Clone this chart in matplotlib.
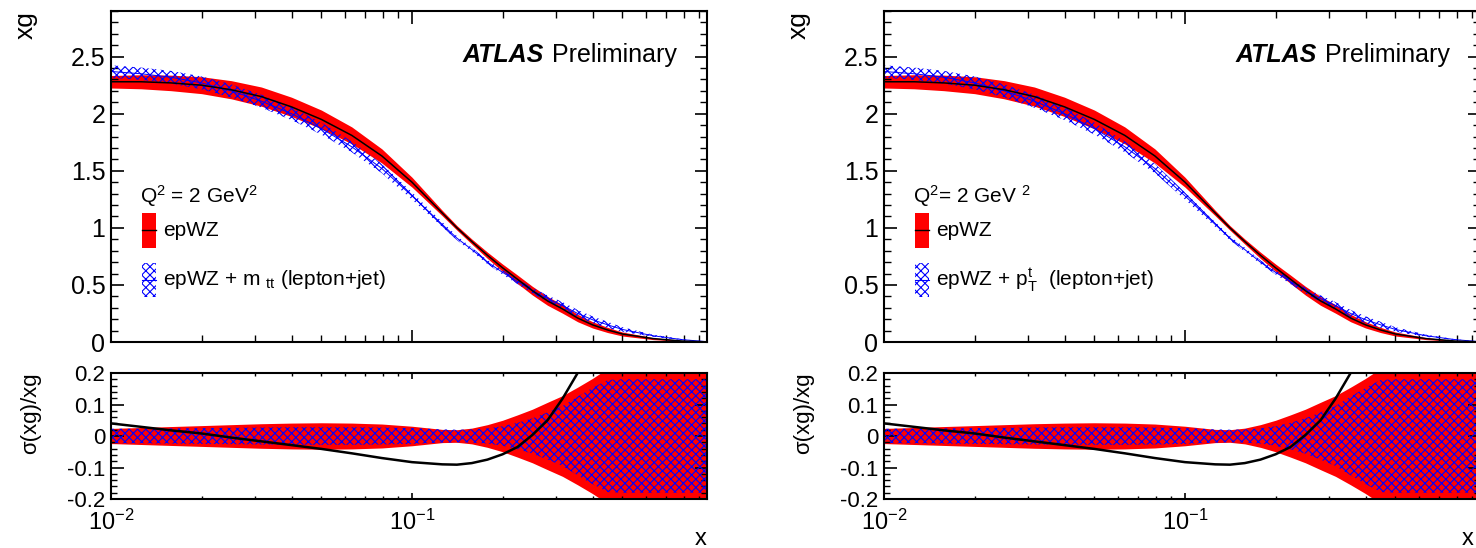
import numpy as np
import matplotlib
matplotlib.use("Agg")
import matplotlib.pyplot as plt
from matplotlib.patches import Rectangle
from matplotlib.lines import Line2D
from matplotlib.ticker import LogLocator, MultipleLocator, FuncFormatter, NullFormatter

plt.rcParams['font.family'] = ['Liberation Sans', 'DejaVu Sans']
plt.rcParams['mathtext.fontset'] = 'custom'
plt.rcParams['mathtext.rm'] = 'Liberation Sans'
plt.rcParams['mathtext.it'] = 'Liberation Sans:italic'
plt.rcParams['mathtext.bf'] = 'Liberation Sans:bold'
plt.rcParams['hatch.linewidth'] = 0.8

# ---- gluon density xg at Q^2 = 2 GeV^2 ----
x_grid = [0.01, 0.0126, 0.0158, 0.02, 0.0251, 0.0316, 0.0398, 0.05, 0.0631, 0.0794,
          0.1, 0.126, 0.141, 0.158, 0.178, 0.2, 0.224, 0.251, 0.282, 0.316,
          0.355, 0.398, 0.447, 0.5, 0.631, 0.794, 0.955]

# epWZ fit: central value and relative uncertainty
xg_epwz = [2.28, 2.28, 2.27, 2.25, 2.21, 2.15, 2.06, 1.95, 1.81, 1.63,
           1.40, 1.13, 1.00, 0.88, 0.76, 0.65, 0.55, 0.45, 0.36, 0.29,
           0.21, 0.15, 0.105, 0.07, 0.03, 0.008, 0.001]
rel_unc_epwz = [0.024, 0.027, 0.030, 0.033, 0.036, 0.039, 0.041, 0.042, 0.041, 0.038,
                0.031, 0.021, 0.020, 0.025, 0.036, 0.050, 0.067, 0.085, 0.107, 0.128,
                0.155, 0.183, 0.215, 0.25, 0.30, 0.35, 0.40]

# epWZ + m_tt (lepton+jet)
xg_mtt = [2.37, 2.35, 2.32, 2.27, 2.20, 2.11, 2.00, 1.87, 1.71, 1.52,
          1.28, 1.03, 0.91, 0.81, 0.70, 0.61, 0.53, 0.45, 0.38, 0.32,
          0.25, 0.195, 0.15, 0.11, 0.055, 0.02, 0.003]
rel_unc_mtt = [0.023, 0.023, 0.024, 0.025, 0.026, 0.027, 0.028, 0.028, 0.028, 0.027,
               0.025, 0.021, 0.020, 0.021, 0.024, 0.031, 0.042, 0.056, 0.075, 0.095,
               0.125, 0.153, 0.178, 0.18, 0.18, 0.18, 0.18]
ratio_mtt = [0.040, 0.029, 0.018, 0.008, -0.005, -0.017, -0.029, -0.041, -0.055, -0.070,
             -0.083, -0.090, -0.091, -0.086, -0.075, -0.058, -0.035, 0.003, 0.050, 0.118,
             0.20, 0.30, 0.42, 0.55, 0.90, 1.5, 2.0]

# epWZ + top pT (lepton+jet)
xg_pt = [2.37, 2.35, 2.32, 2.27, 2.20, 2.11, 2.00, 1.87, 1.71, 1.52,
         1.28, 1.03, 0.91, 0.81, 0.70, 0.61, 0.53, 0.45, 0.38, 0.32,
         0.25, 0.195, 0.15, 0.11, 0.055, 0.02, 0.003]
rel_unc_pt = [0.023, 0.023, 0.024, 0.025, 0.026, 0.027, 0.028, 0.028, 0.028, 0.027,
              0.025, 0.021, 0.020, 0.021, 0.024, 0.031, 0.042, 0.056, 0.075, 0.095,
              0.125, 0.153, 0.178, 0.18, 0.18, 0.18, 0.18]
ratio_pt = [0.040, 0.029, 0.018, 0.008, -0.005, -0.017, -0.029, -0.041, -0.055, -0.070,
            -0.083, -0.090, -0.091, -0.086, -0.075, -0.058, -0.035, 0.003, 0.050, 0.118,
            0.20, 0.30, 0.42, 0.55, 0.90, 1.5, 2.0]

q2_labels = [r"Q$^{2}$ = 2 GeV$^{2}$", r"Q$^{2}$= 2 GeV $^{2}$"]
legend_ref = "epWZ"
legend_alt = [r"epWZ + m $_{\rm tt}$ (lepton+jet)", r"epWZ + p$_{\rm T}^{\rm t}$  (lepton+jet)"]

W, H = 1476, 548
fig = plt.figure(figsize=(W / 100, H / 100), dpi=100)


def fx(px):
    return px / W


def fy(py):
    return 1 - py / H


def style_axes(ax, top):
    ax.set_xscale('log')
    ax.set_xlim(0.01, 0.955)
    ax.xaxis.set_major_locator(LogLocator(base=10))
    ax.xaxis.set_minor_locator(LogLocator(base=10, subs=np.arange(2, 10)))
    ax.xaxis.set_minor_formatter(NullFormatter())
    for s in ax.spines.values():
        s.set_linewidth(1.5)
    if top:
        ax.set_ylim(0, 2.9)
        ax.yaxis.set_major_locator(MultipleLocator(0.5))
        ax.yaxis.set_minor_locator(MultipleLocator(0.1))
        ax.xaxis.set_major_formatter(NullFormatter())
        ax.tick_params(axis='both', which='major', length=9, width=1.2)
        ax.tick_params(axis='both', which='minor', length=5, width=1.0)
        ax.tick_params(axis='y', labelsize=18, pad=4)
    else:
        ax.set_ylim(-0.2, 0.2)
        ax.yaxis.set_major_locator(MultipleLocator(0.1))
        ax.yaxis.set_minor_locator(MultipleLocator(0.02))
        ax.xaxis.set_major_formatter(FuncFormatter(
            lambda v, p: r"$10^{%d}$" % int(round(np.log10(v)))))
        ax.tick_params(axis='x', which='major', length=4, width=1.2, labelsize=17, pad=8)
        ax.tick_params(axis='x', which='minor', length=2.5, width=1.0)
        ax.tick_params(axis='y', which='major', length=9, width=1.2, labelsize=16, pad=4)
        ax.tick_params(axis='y', which='minor', length=4.5, width=1.0)
    ax.yaxis.set_major_formatter(FuncFormatter(lambda v, p: "%g" % round(v, 3)))
    ax.tick_params(which='both', direction='in', top=True, right=True)


def draw(x0, xg_alt, unc_alt, ratio_alt, q2_text, alt_text, xlabel_right):
    xs = np.array(x_grid)
    rc = np.array(xg_epwz)
    ru = np.array(rel_unc_epwz)
    bc = np.array(xg_alt)
    bu = np.array(unc_alt)

    ax_t = fig.add_axes([fx(x0), fy(342), fx(596), (342 - 11) / H])
    ax_b = fig.add_axes([fx(x0), fy(499), fx(596), (499 - 373) / H])

    # upper pad: absolute xg
    ax_t.fill_between(xs, rc * (1 - ru), rc * (1 + ru), color='#ff0000', lw=0, zorder=1)
    ax_t.fill_between(xs, bc * (1 - bu), bc * (1 + bu), facecolor='none',
                      edgecolor='#0000ff', hatch='xxxx', lw=0, zorder=2)
    ax_t.plot(xs, bc, color='#0000ff', lw=0.7, zorder=2.5)
    ax_t.plot(xs, rc, color='black', lw=1.1, zorder=3)
    style_axes(ax_t, True)

    # lower pad: relative uncertainties
    ax_b.fill_between(xs, -ru, ru, color='#ff0000', lw=0, zorder=1)
    ax_b.fill_between(xs, -bu, bu, facecolor='none', edgecolor='#0000ff',
                      hatch='xxxx', lw=0, zorder=2)
    ax_b.plot(xs, ratio_alt, color='black', lw=1.8, zorder=3)
    style_axes(ax_b, False)

    # header
    ax_t.text(0.7265, 0.846, "ATLAS", transform=ax_t.transAxes, ha='right',
              va='baseline', fontsize=18, fontweight='bold', fontstyle='italic')
    ax_t.text(0.740, 0.846, "Preliminary", transform=ax_t.transAxes, ha='left',
              va='baseline', fontsize=18)

    # legend
    tr = ax_t.transAxes
    ax_t.text(0.0487, 0.42, q2_text, transform=tr, ha='left', va='baseline', fontsize=15)
    ax_t.add_patch(Rectangle((0.052, 0.284), 0.0235, 0.106, transform=tr,
                             facecolor='#ff0000', edgecolor='none', zorder=5))
    ax_t.add_line(Line2D([0.052, 0.0755], [0.337, 0.337], transform=tr,
                         color='black', lw=1.0, zorder=6))
    ax_t.text(0.087, 0.337, legend_ref, transform=tr, ha='left', va='center', fontsize=15)
    ax_t.add_patch(Rectangle((0.052, 0.136), 0.0235, 0.103, transform=tr,
                             facecolor='none', edgecolor='#0000ff', hatch='xxxx',
                             lw=0, zorder=5))
    ax_t.add_line(Line2D([0.052, 0.0755], [0.1875, 0.1875], transform=tr,
                         color='#0000ff', lw=0.8, zorder=6))
    ax_t.text(0.087, 0.1875, alt_text, transform=tr, ha='left', va='center', fontsize=15)

    # axis titles
    fig.text(fx(x0 - 85), fy(11), "xg", rotation=90, ha='center', va='top', fontsize=19)
    fig.text(fx(x0 - 80), fy(372), "σ(xg)/xg", rotation=90, ha='center', va='top',
             fontsize=16)
    fig.text(fx(xlabel_right), fy(545), "x", ha='right', va='baseline', fontsize=17)


draw(111, xg_mtt, rel_unc_mtt, ratio_mtt, q2_labels[0], legend_alt[0], 707)
draw(884, xg_pt, rel_unc_pt, ratio_pt, q2_labels[1], legend_alt[1], 1474)

fig.savefig("out.png", dpi=100)
